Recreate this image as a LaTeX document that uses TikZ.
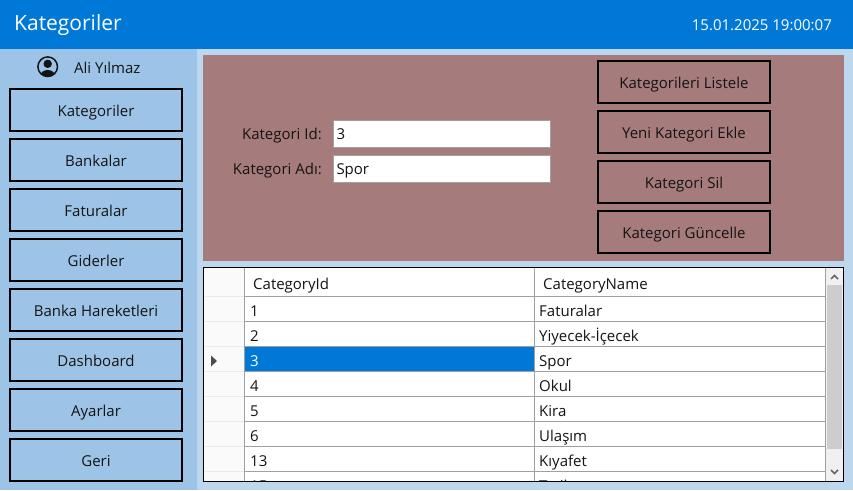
\documentclass[tikz,border=0pt]{standalone}
\usepackage{fontspec}
\setmainfont{Open Sans}
\definecolor{headerblue}{HTML}{0078D7}
\definecolor{sidebarblue}{HTML}{9DC3E6}
\definecolor{pageblue}{HTML}{BDD7EE}
\definecolor{panelrose}{HTML}{A67B7B}
\definecolor{gridline}{HTML}{A0A0A0}
\definecolor{scrollgrey}{HTML}{CDCDCD}
\definecolor{scrollback}{HTML}{F0F0F0}
\definecolor{inktext}{HTML}{141414}
\newcommand{\uifont}{\fontsize{15}{17}\selectfont}
\tikzset{
    menubtn/.style={draw=black, line width=2.4pt, fill=sidebarblue, minimum width=171.5pt,
        minimum height=41.5pt, inner sep=0pt, text height=12.6pt, text depth=0pt, text=inktext, font=\uifont},
    actionbtn/.style={menubtn, fill=panelrose},
    formlabel/.style={anchor=base east, inner sep=0pt, text=inktext, font=\uifont},
    formbox/.style={draw=gridline, line width=0.8pt, fill=white, minimum width=217pt,
        minimum height=27pt, inner sep=2.5pt, text height=11pt, text depth=0pt, text=inktext, font=\uifont,
        text width=211pt, align=left},
    gridtext/.style={anchor=base west, inner sep=0pt, text=inktext, font=\uifont}
}
\begin{document}
\begin{tikzpicture}[x=1pt, y=-1pt]
    \useasboundingbox (0,0) rectangle (853,490);
    \fill[pageblue] (0,0) rectangle (853,490);
    \fill[sidebarblue] (0,49) rectangle (197,490);
    \fill[headerblue] (0,0) rectangle (853,49);
    \fill[panelrose] (203,55) rectangle (844,261);

    % header
    \node[anchor=base west, inner sep=0pt, text=white, font=\fontsize{21}{24}\selectfont] (title) at (14,30) {Kategoriler};
    \node[anchor=base east, inner sep=0pt, text=white, font=\uifont] (clock) at (832,30.5) {15.01.2025 19:00:07};

    % user
    \begin{scope}
        \draw[inktext, line width=1.5pt] (47.7,66.7) circle (9.8);
        \clip (47.7,66.7) circle (9.8);
        \fill[inktext] (47.7,63.8) circle (4.2);
        \fill[inktext] (47.7,76.5) ellipse (7.8 and 6.5);
    \end{scope}
    \node[anchor=base west, inner sep=0pt, text=inktext, font=\uifont] (username) at (74,73) {Ali Yılmaz};

    % menu
    \node[menubtn] (kategoriler) at (96,110) {Kategoriler};
    \node[menubtn] (bankalar) at (96,160) {Bankalar};
    \node[menubtn] (faturalar) at (96,210) {Faturalar};
    \node[menubtn] (giderler) at (96,260) {Giderler};
    \node[menubtn] (hareketler) at (96,310) {Banka Hareketleri};
    \node[menubtn] (dashboard) at (96,360) {Dashboard};
    \node[menubtn] (ayarlar) at (96,410) {Ayarlar};
    \node[menubtn] (geri) at (96,460) {Geri};

    % form
    \node[formlabel] (idlabel) at (322,139) {Kategori Id:};
    \node[formlabel] (adlabel) at (322,174) {Kategori Adı:};
    \node[formbox] (idbox) at (442,133.5) {3};
    \node[formbox] (adbox) at (442,168.5) {Spor};
    \node[actionbtn] (listele) at (684,82) {Kategorileri Listele};
    \node[actionbtn] (ekle) at (684,132) {Yeni Kategori Ekle};
    \node[actionbtn] (sil) at (684,182) {Kategori Sil};
    \node[actionbtn] (guncelle) at (684,232) {Kategori Güncelle};

    % grid
    \fill[white] (203.5,267.5) rectangle (843.5,481.5);
    \fill[black!2] (204,268) rectangle (244,481);
    \begin{scope}
        \clip (204,268) rectangle (843,481);
        \fill[headerblue] (244,346.5) rectangle (534,371);
        \draw[gridline, line width=0.8pt] (244,268) -- (244,481);
        \draw[gridline, line width=0.8pt] (534,268) -- (534,481);
        \draw[gridline, line width=0.8pt] (825.7,268) -- (825.7,481);
        \draw[gridline, line width=0.8pt] (244,296) -- (825.7,296);
        \draw[gridline, line width=0.8pt] (244,321.3) -- (825.7,321.3);
        \draw[gridline, line width=0.8pt] (244,346.3) -- (825.7,346.3);
        \draw[gridline, line width=0.8pt] (244,371.3) -- (825.7,371.3);
        \draw[gridline, line width=0.8pt] (244,396.3) -- (825.7,396.3);
        \draw[gridline, line width=0.8pt] (244,421.3) -- (825.7,421.3);
        \draw[gridline, line width=0.8pt] (244,446.3) -- (825.7,446.3);
        \draw[gridline, line width=0.8pt] (244,471.3) -- (825.7,471.3);
        \draw[black!8, line width=0.6pt] (204,296) -- (244,296);
        \draw[black!8, line width=0.6pt] (204,321.3) -- (244,321.3);
        \draw[black!8, line width=0.6pt] (204,346.3) -- (244,346.3);
        \draw[black!8, line width=0.6pt] (204,371.3) -- (244,371.3);
        \draw[black!8, line width=0.6pt] (204,396.3) -- (244,396.3);
        \draw[black!8, line width=0.6pt] (204,421.3) -- (244,421.3);
        \draw[black!8, line width=0.6pt] (204,446.3) -- (244,446.3);
        \draw[black!8, line width=0.6pt] (204,471.3) -- (244,471.3);
        \node[gridtext] (headid) at (253,289) {CategoryId};
        \node[gridtext] (headname) at (543,289) {CategoryName};
        \node[gridtext] (id1) at (250,316) {1};
        \node[gridtext] (name1) at (539,316) {Faturalar};
        \node[gridtext] (id2) at (250,341) {2};
        \node[gridtext] (name2) at (539,341) {Yiyecek-İçecek};
        \node[gridtext, text=white] (id3) at (250,366) {3};
        \node[gridtext] (name3) at (539,366) {Spor};
        \node[gridtext] (id4) at (250,391) {4};
        \node[gridtext] (name4) at (539,391) {Okul};
        \node[gridtext] (id5) at (250,416) {5};
        \node[gridtext] (name5) at (539,416) {Kira};
        \node[gridtext] (id6) at (250,441) {6};
        \node[gridtext] (name6) at (539,441) {Ulaşım};
        \node[gridtext] (id7) at (250,466) {13};
        \node[gridtext] (name7) at (539,466) {Kıyafet};
        \node[gridtext] (id8) at (250,491) {15};
        \node[gridtext] (name8) at (539,491) {Tatil};
    \end{scope}
    \fill[black!70] (211,355.5) -- (217,361) -- (211,366.5) -- cycle;

    % scrollbar
    \fill[scrollback] (826,268) rectangle (843,481);
    \fill[scrollgrey] (827,285) rectangle (842,449);
    \draw[black!60, line width=1.6pt] (831,279) -- (834.5,275.5) -- (838,279);
    \draw[black!60, line width=1.6pt] (831,470) -- (834.5,473.5) -- (838,470);
    \draw[black, line width=1pt] (203.5,267.5) rectangle (843.5,481.5);
\end{tikzpicture}
\end{document}
